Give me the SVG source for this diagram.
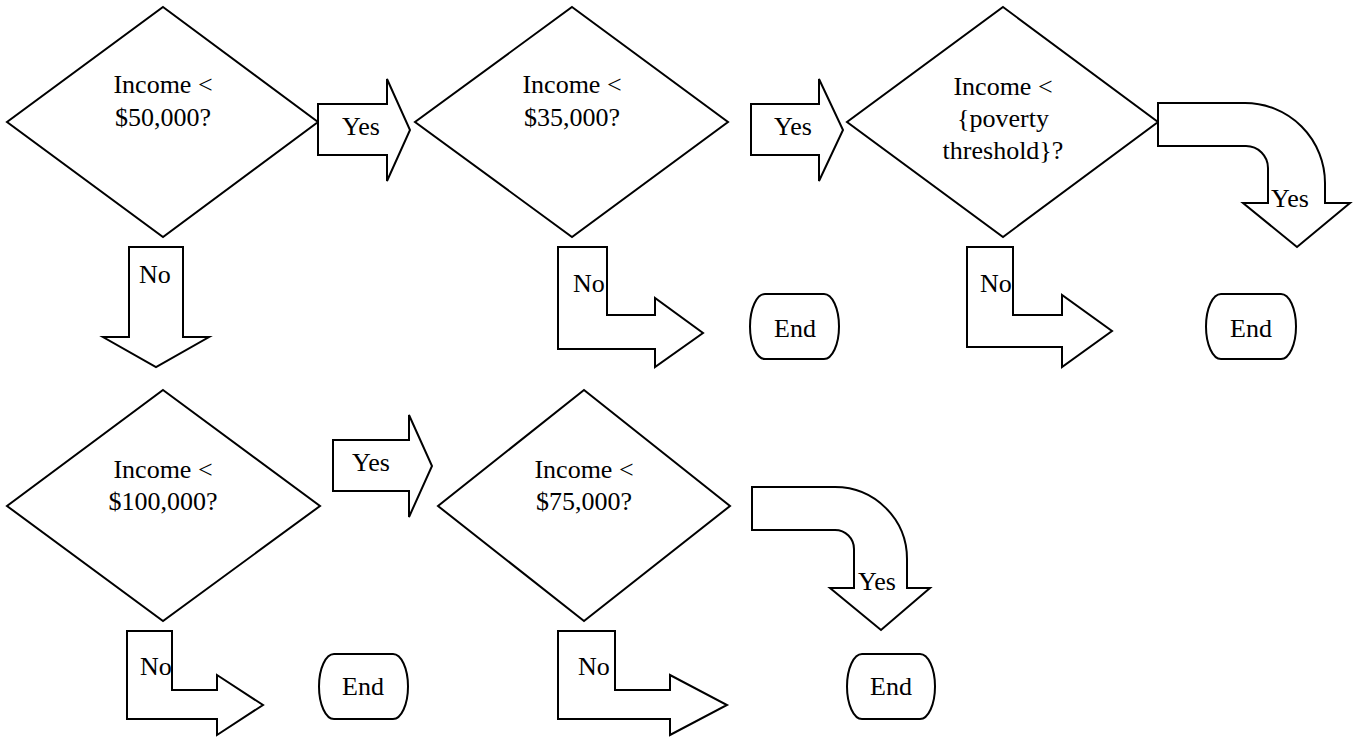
<svg xmlns="http://www.w3.org/2000/svg" width="1356" height="738" viewBox="0 0 1356 738">
<style>
.s{fill:#fff;stroke:#000;stroke-width:2;stroke-linejoin:miter}
.c{text-anchor:middle}
</style>
<rect width="1356" height="738" fill="#fff"/>
<g font-family="Liberation Serif, Times New Roman, DejaVu Serif, serif" font-size="26" fill="#000">
<g id="d1"><polygon class="s" points="163,7 318,122 163,237 7,122"/>
<text class="c" x="163" y="93">Income &lt;</text><text class="c" x="163" y="126">$50,000?</text></g>
<g id="d2"><polygon class="s" points="572,7 728,122 572,237 415,122"/>
<text class="c" x="572" y="93">Income &lt;</text><text class="c" x="572" y="126">$35,000?</text></g>
<g id="d3"><polygon class="s" points="1003,7 1158,122 1003,237 847,122"/>
<text class="c" x="1003" y="95">Income &lt;</text><text class="c" x="1003" y="127">{poverty</text><text class="c" x="1003" y="159">threshold}?</text></g>
<g id="d4"><polygon class="s" points="163,390 320,506 163,621 7,506"/>
<text class="c" x="163" y="478">Income &lt;</text><text class="c" x="163" y="510">$100,000?</text></g>
<g id="d5"><polygon class="s" points="584,390 730,506 584,621 438,506"/>
<text class="c" x="584" y="478">Income &lt;</text><text class="c" x="584" y="510">$75,000?</text></g>
<g id="e1"><path class="s" d="M765,294 H824 A15,32.5 0 0 1 824,359 H765 A15,32.5 0 0 1 765,294 Z"/><text class="c" x="795" y="337">End</text></g>
<g id="e2"><path class="s" d="M1221,294 H1281 A15,32.5 0 0 1 1281,359 H1221 A15,32.5 0 0 1 1221,294 Z"/><text class="c" x="1251" y="337">End</text></g>
<g id="e3"><path class="s" d="M334,654 H393 A15,32.5 0 0 1 393,719 H334 A15,32.5 0 0 1 334,654 Z"/><text class="c" x="363" y="695">End</text></g>
<g id="e4"><path class="s" d="M862,654 H920 A15,32.5 0 0 1 920,719 H862 A15,32.5 0 0 1 862,654 Z"/><text class="c" x="891" y="695">End</text></g>
<g id="connectors">
<g id="a1"><polygon class="s" points="318,104 387,104 387,79 410,130 387,181 387,155 318,155"/><text class="c" x="361" y="135">Yes</text></g>
<g id="a2"><polygon class="s" points="751,104 819,104 819,79 843,130 819,181 819,155 751,155"/><text class="c" x="793" y="135">Yes</text></g>
<g id="a3"><path class="s" d="M1158,103 H1245 A80,80 0 0 1 1325,183 V203 H1350 L1297,247 L1243,203 H1268 V168 A22,22 0 0 0 1246,146 H1158 Z"/><text x="1271" y="207">Yes</text></g>
<g id="a4"><polygon class="s" points="129,247 183,247 183,337 209,337 156,367 103,337 129,337"/><text x="139" y="283">No</text></g>
<g id="a5"><polygon class="s" points="558,247 607,247 607,315 655,315 655,298 703,333 655,367 655,349 558,349"/><text x="573" y="292">No</text></g>
<g id="a6"><polygon class="s" points="967,247 1013,247 1013,315 1062,315 1062,295 1112,331 1062,367 1062,347 967,347"/><text x="980" y="292">No</text></g>
<g id="a7"><polygon class="s" points="333,440 409,440 409,415 432,466 409,517 409,491 333,491"/><text class="c" x="371" y="471">Yes</text></g>
<g id="a8"><path class="s" d="M752,487 H835 A72,72 0 0 1 907,559 V588 H930 L881,630 L830,588 H854 V549 A19,19 0 0 0 835,530 H752 Z"/><text x="858" y="590">Yes</text></g>
<g id="a9"><polygon class="s" points="127,631 172,631 172,690 217,690 217,675 263,705 217,735 217,719 127,719"/><text x="140" y="675">No</text></g>
<g id="a10"><polygon class="s" points="558,631 615,631 615,690 670,690 670,675 727,705 670,735 670,719 558,719"/><text x="578" y="675">No</text></g>
</g>
</g>
</svg>
